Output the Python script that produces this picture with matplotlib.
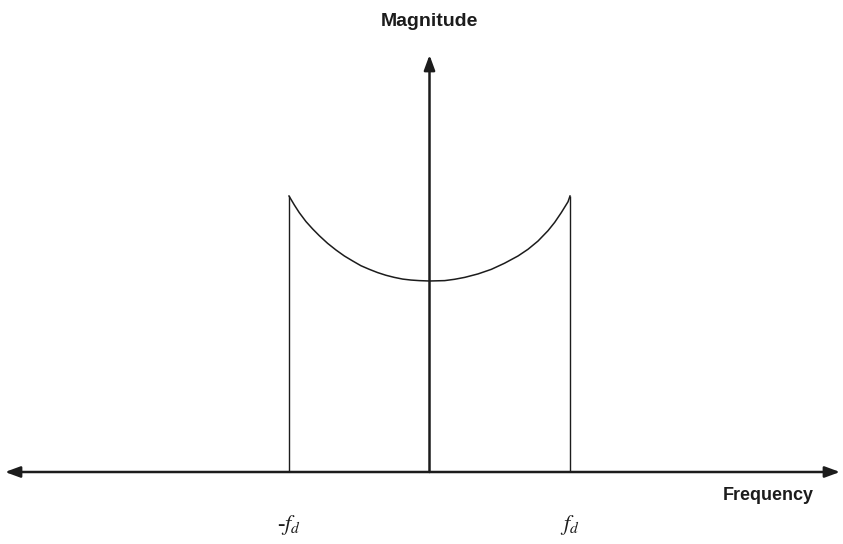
import numpy as np
import matplotlib.pyplot as plt

# spectrum shape (frequency in units of fd, magnitude relative to centre)
freq = [-1.0, -0.962, -0.927, -0.879, -0.831, -0.784, -0.725, -0.665, -0.606,
        -0.547, -0.488, -0.428, -0.369, -0.310, -0.251, -0.191, -0.132, -0.073,
        0.0, 0.108, 0.179, 0.251, 0.345, 0.440, 0.534, 0.630, 0.701, 0.772,
        0.843, 0.891, 0.938, 0.986, 1.0]
mag = [1.445, 1.398, 1.358, 1.311, 1.272, 1.237, 1.197, 1.162, 1.131,
       1.105, 1.080, 1.061, 1.044, 1.030, 1.019, 1.010, 1.005, 1.002,
       1.0, 1.002, 1.009, 1.019, 1.037, 1.061, 1.093, 1.131, 1.166, 1.209,
       1.263, 1.307, 1.358, 1.415, 1.445]
tick_pos = [-1.0, 1.0]
tick_labels = ['-$f_d$', '$f_d$']

plt.rcParams['mathtext.fontset'] = 'stix'

fig = plt.figure(figsize=(8.43, 5.44), dpi=100)
ax = fig.add_axes([0, 0, 1, 1])
ax.axis('off')

# map pixel layout: x px = 429.5 + 140.5*f, y px = 472 - 191*m
ax.set_xlim(-429.5 / 140.5, (843 - 429.5) / 140.5)
ax.set_ylim(-(544 - 472) / 191, 472 / 191)

col = '#1c1c1c'

# axes with arrows
ax.annotate('', xy=((840 - 429.5) / 140.5, 0), xytext=((5 - 429.5) / 140.5, 0),
            arrowprops=dict(arrowstyle='<|-|>,head_length=0.6,head_width=0.22',
                            color=col, lw=1.8, mutation_scale=15,
                            shrinkA=0, shrinkB=0))
ax.annotate('', xy=(0, (472 - 55) / 191), xytext=(0, 0),
            arrowprops=dict(arrowstyle='-|>,head_length=0.6,head_width=0.22',
                            color=col, lw=1.8, mutation_scale=15,
                            shrinkA=0, shrinkB=0))

# spectrum
ax.plot(freq, mag, color=col, lw=1.1, solid_joinstyle='round')
ax.vlines([freq[0], freq[-1]], 0, [mag[0], mag[-1]], color=col, lw=1.0)

ax.text(0, (472 - 22) / 191, 'Magnitude', ha='center', va='center',
        fontsize=14, fontweight='bold', family='Liberation Sans', color=col)
ax.text((768 - 429.5) / 140.5, (472 - 495) / 191, 'Frequency', ha='center', va='center',
        fontsize=13, fontweight='bold', family='Liberation Sans', color=col)

for p, lab in zip(tick_pos, tick_labels):
    ax.text(p, (472 - 525) / 191, lab, ha='center', va='center',
            fontsize=16, family='Liberation Serif', style='italic', color=col)

fig.savefig('out.png', dpi=100)
